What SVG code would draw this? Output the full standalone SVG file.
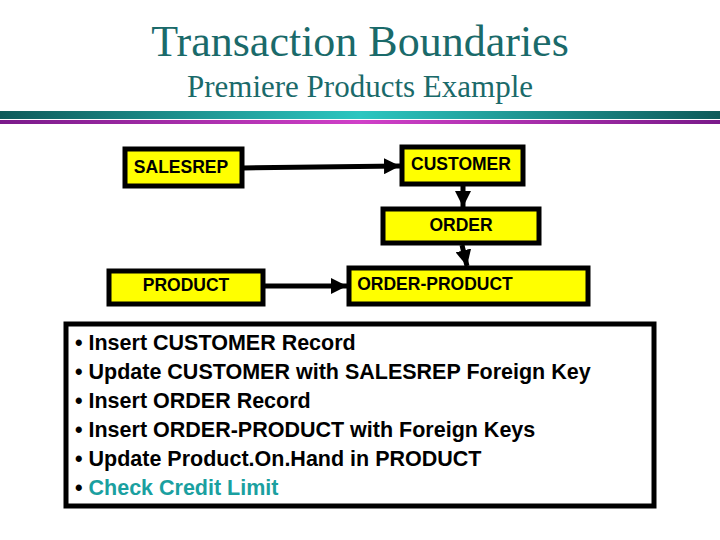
<svg xmlns="http://www.w3.org/2000/svg" width="720" height="540" viewBox="0 0 720 540">
<defs>
<linearGradient id="teal" x1="0" x2="1" y1="0" y2="0">
<stop offset="0" stop-color="#0e5a5a"/><stop offset="0.5" stop-color="#2cc6c0"/><stop offset="1" stop-color="#0e5a5a"/>
</linearGradient>
<linearGradient id="mag" x1="0" x2="1" y1="0" y2="0">
<stop offset="0" stop-color="#7a1a8a"/><stop offset="0.5" stop-color="#d040c8"/><stop offset="1" stop-color="#7a1a8a"/>
</linearGradient>
<marker id="ah" viewBox="0 0 10 10" refX="10" refY="5" markerWidth="3.2" markerHeight="3.2" orient="auto" markerUnits="strokeWidth">
<path d="M0,0 L10,5 L0,10 Z" fill="#000"/>
</marker>
<style>
.node rect{fill:#ffff00;stroke:#000;stroke-width:5}
.node text{font-family:"Liberation Sans",Arial,sans-serif;font-weight:bold;font-size:17.5px;fill:#000;text-anchor:middle}
.conn line{stroke:#000;stroke-width:5;marker-end:url(#ah)}
.item{font-family:"Liberation Sans",Arial,sans-serif;font-weight:bold;font-size:21.5px;fill:#000}
</style>
</defs>
<rect width="720" height="540" fill="#fff"/>
<text x="360" y="56" text-anchor="middle" font-family="Liberation Serif,serif" font-size="44" fill="#1a6a6a">Transaction Boundaries</text>
<text x="360" y="97" text-anchor="middle" font-family="Liberation Serif,serif" font-size="31" fill="#1a6a6a">Premiere Products Example</text>
<rect x="0" y="111" width="720" height="8" fill="url(#teal)"/>
<rect x="0" y="120" width="720" height="4" fill="url(#mag)"/>
<g id="SALESREP" class="node"><rect x="125" y="149" width="117" height="37"/><text x="181" y="173">SALESREP</text></g>
<g id="CUSTOMER" class="node"><rect x="402" y="147" width="121" height="37"/><text x="461" y="170">CUSTOMER</text></g>
<g id="ORDER" class="node"><rect x="383" y="209" width="156" height="34"/><text x="461" y="231">ORDER</text></g>
<g id="PRODUCT" class="node"><rect x="109" y="271" width="154" height="33"/><text x="186" y="291">PRODUCT</text></g>
<g id="ORDER-PRODUCT" class="node"><rect x="349" y="268" width="239" height="36"/><text x="435" y="290">ORDER-PRODUCT</text></g>
<g id="connectors" class="conn">
<line x1="243" y1="168" x2="400" y2="166"/>
<line x1="463" y1="186" x2="463" y2="207"/>
<line x1="462" y1="245" x2="467" y2="266"/>
<line x1="264" y1="286" x2="347" y2="286"/>
</g>
<g id="notes">
<rect x="66" y="324" width="588" height="182" fill="#fff" stroke="#000" stroke-width="5"/>
<text class="item" x="75" y="350">• Insert CUSTOMER Record</text>
<text class="item" x="75" y="379">• Update CUSTOMER with SALESREP Foreign Key</text>
<text class="item" x="75" y="408">• Insert ORDER Record</text>
<text class="item" x="75" y="437">• Insert ORDER-PRODUCT with Foreign Keys</text>
<text class="item" x="75" y="466">• Update Product.On.Hand in PRODUCT</text>
<text class="item" x="75" y="495">• <tspan fill="#1aa0a0">Check Credit Limit</tspan></text>
</g>
</svg>
